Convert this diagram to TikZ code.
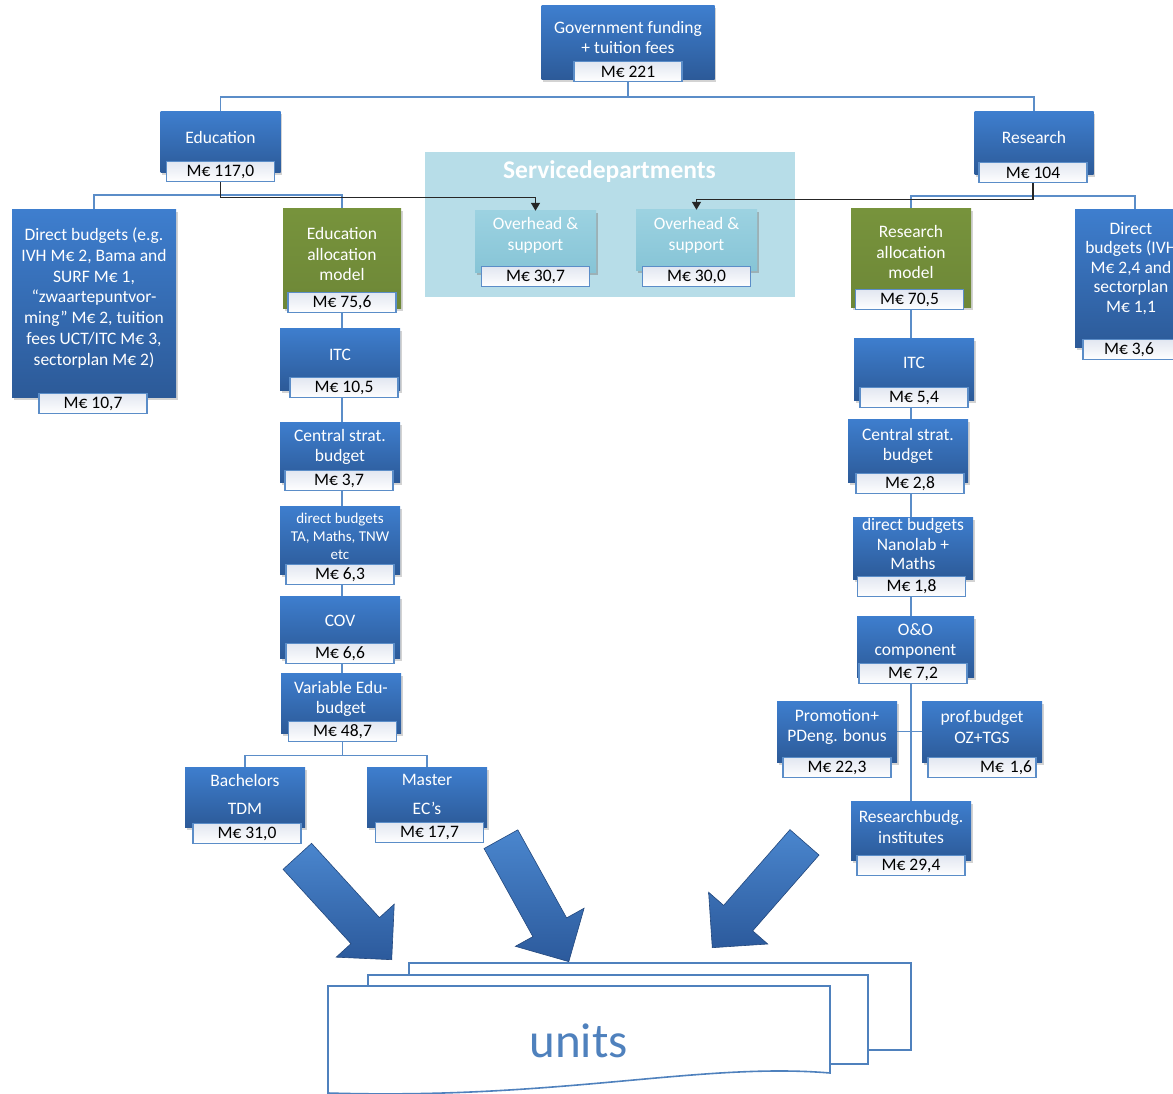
\documentclass[tikz,border=0pt]{standalone}
\usepackage{fontspec}
\setmainfont{Carlito}
\usepackage{tikz}
\usetikzlibrary{arrows.meta,positioning,shadows,shapes.arrows,backgrounds}
\definecolor{boxtop}{RGB}{62,126,206}
\definecolor{boxbot}{RGB}{44,90,152}
\definecolor{allocgreen}{RGB}{119,147,60}
\definecolor{servbg}{RGB}{183,221,232}
\definecolor{ovtop}{RGB}{156,210,225}
\definecolor{ovbot}{RGB}{134,196,214}
\definecolor{linkblue}{RGB}{91,141,200}
\definecolor{amttop}{RGB}{226,231,241}
\definecolor{unitblue}{RGB}{79,129,189}
\definecolor{arrowlight}{RGB}{74,134,206}
\definecolor{arrowdark}{RGB}{44,90,156}
\tikzset{
    %Define standard arrow tip
    >={Triangle[length=8pt,width=9pt]},
    %Define style for boxes
    budget/.style={
           rectangle,
           top color=boxtop, bottom color=boxbot,
           minimum width=120pt,
           minimum height=62pt,
           drop shadow={opacity=.35,shadow xshift=1.5pt,shadow yshift=-2.5pt}},
    alloc/.style={
           budget,
           top color=allocgreen, bottom color=allocgreen!92!black},
    overhead/.style={
           budget,
           top color=ovtop, bottom color=ovbot,
           drop shadow={opacity=.18,shadow xshift=1.5pt,shadow yshift=-2.5pt}},
    boxtext/.style={
           text=white,
           align=center,
           inner sep=0pt,
           font=\fontsize{17.5}{20.7}\selectfont,
           yshift=5.5pt},
    amount/.style={
           rectangle,
           draw=linkblue, line width=1.1pt,
           top color=amttop, bottom color=white,
           minimum width=108pt,
           minimum height=20pt,
           inner sep=0pt,
           font=\fontsize{17.5}{20}\selectfont,
           text centered},
    servbox/.style={
           rectangle,
           fill=servbg,
           minimum width=370pt,
           minimum height=145pt},
    servtitle/.style={
           text=white,
           font=\bfseries\fontsize{25.5}{27}\selectfont},
    % Define line styles
    link/.style={draw=linkblue, line width=1.6pt},
    flow/.style={->, draw=black!85, line width=1.4pt},
    sheet/.style={draw=unitblue, line width=1.6pt, fill=white},
    bigarrow/.style={
           single arrow,
           single arrow head extend=20pt,
           single arrow tip angle=90,
           minimum width=78pt,
           minimum height=140pt,
           inner xsep=0pt,
           inner ysep=19pt,
           top color=arrowlight, bottom color=arrowdark,
           draw=arrowdark!80!black, line width=.6pt}
}

\begin{document}
\begin{tikzpicture}[x=1pt,y=-1pt]
\useasboundingbox (0,0) rectangle (1173,1094);
\clip (0,0) rectangle (1173,1094);
% service departments
\node[servbox] (serv) at (610,224.5) {};
\node[servtitle, anchor=base] (servname) at (609.5,179) {Servicedepartments};
\node[overhead, minimum width=121, label={[boxtext,yshift=1pt]center:Overhead \&\\support}] (ovh1) at (535.5,242) {};
\node[amount, below=-7pt of ovh1] (ovh1amt) {M€ 30,7};
\node[overhead, minimum width=121, minimum height=61, label={[boxtext,yshift=-.5pt]center:Overhead \&\\support}] (ovh2) at (696.5,240.5) {};
\node[amount, below=-5pt of ovh2] (ovh2amt) {M€ 30,0};
% top levels
\node[budget, minimum width=173, minimum height=74, label={[boxtext]center:Government funding\\+ tuition fees}] (gov) at (628,43) {};
\node[amount, below=-19pt of gov] (govamt) {M€ 221};
\node[budget, minimum height=61, label={[boxtext]center:Education}] (edu) at (220.5,142.5) {};
\node[amount, below=-12pt of edu] (eduamt) {M€ 117,0};
\node[budget, minimum width=119, minimum height=63, label={[boxtext,yshift=1pt]center:Research}] (res) at (1034,143.5) {};
\node[amount, below=-13pt of res, xshift=-1pt] (resamt) {M€ 104};
% education side
\node[budget, minimum width=164, minimum height=187, label={[boxtext]center:Direct budgets (e.g.\\IVH M€ 2, Bama and\\SURF M€ 1,\\“zwaartepuntvor-\\ming” M€ 2, tuition\\fees UCT/ITC M€ 3,\\sectorplan M€ 2)}] (dbl) at (94,303.5) {};
\node[amount, below=-4pt of dbl, xshift=-1pt] (dblamt) {M€ 10,7};
\node[alloc, minimum width=118, minimum height=99, label={[boxtext,yshift=-1pt]center:Education\\allocation\\model}] (ealloc) at (342,258.5) {};
\node[amount, below=-16pt of ealloc] (eallocamt) {M€ 75,6};
\node[budget, label={[boxtext,yshift=-1.5pt]center:ITC}] (itc1) at (340,359) {};
\node[amount, below=-13pt of itc1, xshift=4pt] (itc1amt) {M€ 10,5};
\node[budget, minimum height=60, label={[boxtext,yshift=-.5pt]center:Central strat.\\budget}] (cs1) at (340,452) {};
\node[amount, below=-12pt of cs1, xshift=-1pt] (cs1amt) {M€ 3,7};
\node[budget, minimum height=68, label={[boxtext,yshift=-1.5pt,font=\fontsize{15}{18}\selectfont]center:direct budgets\\TA, Maths, TNW\\etc}] (db1) at (340,540) {};
\node[amount, below=-10pt of db1] (db1amt) {M€ 6,3};
\node[budget, label={[boxtext,yshift=.5pt]center:COV}] (cov) at (340,627) {};
\node[amount, below=-15pt of cov] (covamt) {M€ 6,6};
\node[budget, minimum height=60, label={[boxtext,yshift=-1.5pt]center:Variable Edu-\\budget}] (var) at (341,703) {};
\node[amount, below=-12pt of var, xshift=1.5pt] (varamt) {M€ 48,7};
\node[budget, minimum height=60, label={[boxtext,yshift=-3pt]center:Bachelors\\[8pt]TDM}] (bach) at (245,797) {};
\node[amount, below=-4pt of bach, xshift=2pt] (bachamt) {M€ 31,0};
\node[budget, minimum height=60, label={[boxtext,yshift=-3pt]center:Master\\[8pt]EC’s}] (mast) at (427,797) {};
\node[amount, below=-5pt of mast, xshift=2.5pt] (mastamt) {M€ 17,7};
% research side
\node[alloc, minimum height=98, label={[boxtext,yshift=.5pt]center:Research\\allocation\\model}] (ralloc) at (911,258) {};
\node[amount, below=-18pt of ralloc, xshift=-1.5pt] (rallocamt) {M€ 70,5};
\node[budget, minimum height=137, label={[boxtext,yshift=4.5pt,xshift=-4pt,font=\fontsize{17.5}{19.5}\selectfont]center:Direct\\budgets (IVH\\M€ 2,4 and\\sectorplan\\M€ 1,1}] (dbr) at (1135,278.5) {};
\node[amount, below=-8pt of dbr, xshift=-6pt, minimum width=92] (dbramt) {M€ 3,6};
\node[budget, label={[boxtext,yshift=.5pt]center:ITC}] (itc2) at (914,369) {};
\node[amount, below=-13pt of itc2] (itc2amt) {M€ 5,4};
\node[budget, minimum height=63, label={[boxtext,yshift=-1pt]center:Central strat.\\budget}] (cs2) at (908,450.5) {};
\node[amount, below=-9pt of cs2, xshift=2pt] (cs2amt) {M€ 2,8};
\node[budget, label={[boxtext,yshift=-1.5pt,font=\fontsize{17.5}{19.5}\selectfont]center:direct budgets\\Nanolab +\\Maths}] (db2) at (913,548) {};
\node[amount, below=-3pt of db2, xshift=-1.5pt] (db2amt) {M€ 1,8};
\node[budget, minimum width=117, minimum height=61, label={[boxtext]center:O\&O\\component}] (oo) at (915.5,646.5) {};
\node[amount, below=-14pt of oo, xshift=-2.5pt] (ooamt) {M€ 7,2};
\node[budget, minimum height=61, label={[boxtext,yshift=-1pt]center:Promotion+\\PDeng. bonus}] (prom) at (837,731.5) {};
\node[amount, below=-5pt of prom] (promamt) {M€ 22,3};
\node[budget, minimum height=61, label={[boxtext,yshift=-1pt]center:prof.budget\\OZ+TGS}] (prof) at (982,731.5) {};
\node[amount, below=-5pt of prof, text width=100pt, align=right] (profamt) {M€ 1,6};
\node[budget, minimum height=59, label={[boxtext,yshift=-2pt]center:Researchbudg.\\institutes}] (rbi) at (911,830.5) {};
\node[amount, below=-5pt of rbi] (rbiamt) {M€ 29,4};
% tree lines
\begin{scope}[on background layer]
\draw[link] (govamt.south) -- ++(0,15) coordinate (gsplit) -| (edu.north);
\draw[link] (gsplit) -| (res.north);
\draw[link] (eduamt.south) -- ++(0,13) coordinate (esplit) -| (dbl.north);
\draw[link] (esplit) -| (ealloc.north);
\draw[link] (resamt.south) -- ++(0,13) coordinate (rsplit) -| (ralloc.north);
\draw[link] (rsplit) -| (dbr.north);
\draw[link] (ealloc.south) -- (ealloc.south |- var.north);
\draw[link] (varamt.south) -- ++(0,13) coordinate (vsplit) -| (bach.north);
\draw[link] (vsplit) -| (mast.north);
\draw[link] (ralloc.south) -- (ralloc.south |- rbi.north);
\draw[link] (prom.east) -- (prof.west);
\end{scope}
\draw[flow] (eduamt.south) -- ++(0,15) -| (ovh1.north);
\draw[flow] (resamt.south) -- ++(0,16) -| (ovh2.north);
% units
\node[bigarrow, rotate=-47.6, anchor=tip] (arr1) at (392,960) {};
\node[bigarrow, rotate=-61, anchor=tip] (arr2) at (569,962) {};
\node[bigarrow, rotate=-131.2, anchor=tip] (arr3) at (712,948) {};
\draw[sheet] (409,963) rectangle (911,1050);
\draw[sheet] (368,975) rectangle (868,1064);
\draw[sheet] (328,986) -- (830,986) -- (830,1073) .. controls (700,1062) and (560,1100) .. (328,1093) -- cycle;
\node[text=unitblue, font=\fontsize{49}{52}\selectfont, anchor=base] (units) at (578.5,1057) {units};
\end{tikzpicture}
\end{document}
